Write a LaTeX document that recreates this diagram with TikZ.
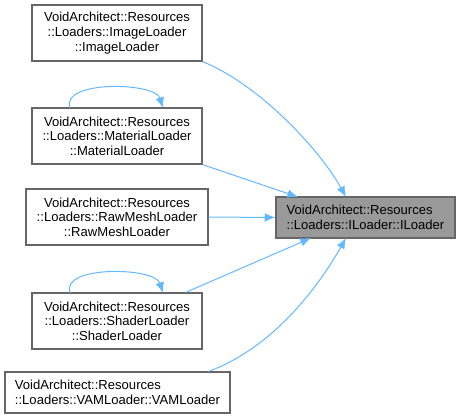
\documentclass[tikz,border=0pt]{standalone}
\usepackage{fontspec}
\setmainfont{Liberation Sans}
\usetikzlibrary{arrows.meta}
\definecolor{edgeblue}{HTML}{63B8FF}
\definecolor{boxline}{HTML}{666666}
\definecolor{hilite}{HTML}{999999}
\tikzset{
  cls/.style={draw=boxline, line width=0.9pt, fill=white, inner sep=0pt, align=center,
    font=\fontsize{9.8}{11}\selectfont, text=black},
  cur/.style={cls, fill=hilite, draw=boxline},
  edge/.style={draw=edgeblue, line width=0.75pt, -{Latex[length=8pt,width=6.5pt]}}
}
\begin{document}
\begin{tikzpicture}[x=0.75pt,y=-0.75pt]
\useasboundingbox (0,0) rectangle (459,419);
\node[cls, minimum width=127.5pt, minimum height=42pt] (img) at (117,33) {VoidArchitect::Resources\\::Loaders::ImageLoader\\::ImageLoader};
\node[cls, minimum width=127.5pt, minimum height=42pt] (mat) at (117,136) {VoidArchitect::Resources\\::Loaders::MaterialLoader\\::MaterialLoader};
\node[cls, minimum width=136.5pt, minimum height=42pt] (raw) at (117,217) {VoidArchitect::Resources\\::Loaders::RawMeshLoader\\::RawMeshLoader};
\node[cls, minimum width=127.5pt, minimum height=42pt] (sha) at (117,321) {VoidArchitect::Resources\\::Loaders::ShaderLoader\\::ShaderLoader};
\node[cls, minimum width=168.75pt, minimum height=30.75pt, align=left] (vam) at (117.5,392.5) {VoidArchitect::Resources\\::Loaders::VAMLoader::VAMLoader};
\node[cur, minimum width=134.25pt, minimum height=30.75pt, align=left] (il) at (365.5,217.5) {VoidArchitect::Resources\\::Loaders::ILoader::ILoader};

\coordinate (ilt1) at (346,197);
\coordinate (ilt2) at (298,197);
\coordinate (ilb1) at (311,238);
\coordinate (ilb2) at (346,238);

\draw[edge] (img.south east) .. controls (260,85) and (320,150) .. (ilt1);
\draw[edge] (mat.south east) -- (ilt2);
\draw[edge] (raw.east) -- (il.west);
\draw[edge] ([xshift=-12.75pt]sha.north east) -- (ilb1);
\draw[edge] ([xshift=-16.5pt]vam.north east) .. controls (280,345) and (325,275) .. (ilb2);

\coordinate (m1) at (70,108);
\coordinate (m2) at (163,108);
\draw[edge] (m1) .. controls (60,80) and (155,82) .. (m2);
\coordinate (s1) at (70,293);
\coordinate (s2) at (163,293);
\draw[edge] (s1) .. controls (60,265) and (155,267) .. (s2);
\end{tikzpicture}
\end{document}
